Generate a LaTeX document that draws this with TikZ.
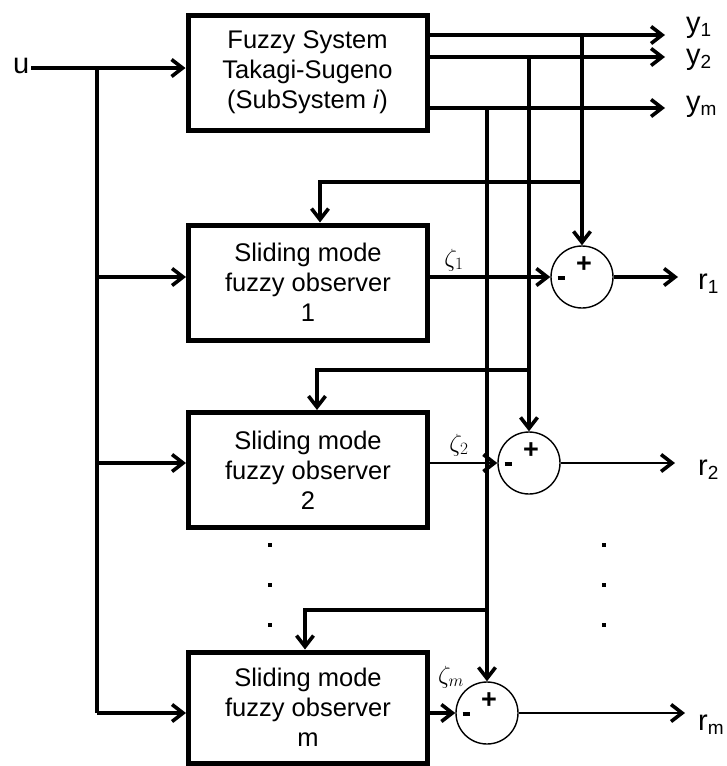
\documentclass[tikz,border=0pt]{standalone}
\usepackage{fontspec}
\setmainfont{Liberation Sans}
\usetikzlibrary{arrows.meta}
\newcommand\mysub[1]{\raisebox{-4pt}{\fontsize{19}{19}\selectfont #1}}
\begin{document}
\begin{tikzpicture}[x=1pt,y=-1pt,
  wire/.style={line width=4.2pt},
  arr/.style={wire,-{Straight Barb[length=11pt,width=17pt,line width=3.6pt]}},
  thinarr/.style={line width=2.6pt,-{Straight Barb[length=11pt,width=17pt,line width=3.6pt]}},
  blk/.style={draw,line width=5pt,minimum width=239pt,minimum height=115pt,align=center,
              font=\fontsize{25.5}{30}\selectfont,inner sep=0pt},
  sumc/.style={draw,circle,line width=1.4pt,minimum size=62pt,inner sep=0pt},
  lab/.style={font=\fontsize{29}{30}\selectfont,inner sep=0pt,anchor=base west},
  zlab/.style={font=\fontsize{24}{26}\selectfont,inner sep=0pt},
  sgn/.style={font=\fontsize{27}{28}\selectfont\bfseries,inner sep=0pt},
  dotmark/.style={fill,rectangle,inner sep=0pt,minimum size=3.5pt}]
\useasboundingbox (0,0) rectangle (726,766);

% blocks
\node[blk] (top) at (307.5,72.5) {Fuzzy System\\Takagi-Sugeno\\(SubSystem \textit{i})};
\node[blk] (o1) at (308,282.5) {Sliding mode\\fuzzy observer\\1};
\node[blk] (o2) at (308,470) {Sliding mode\\fuzzy observer\\2};
\node[blk,minimum height=111pt] (om) at (308,707.5) {Sliding mode\\fuzzy observer\\m};

% summing junctions
\node[sumc] (s1) at (582,277) {};
\node[sumc] (s2) at (529,463) {};
\node[sumc] (sm) at (487,713) {};
\foreach \s in {s1,s2,sm}{
  \node[sgn,xshift=2pt,yshift=12pt] at (\s) {+};
  \node[inner sep=0pt,xshift=-21pt,yshift=-1pt] at (\s) {\rule{7pt}{3.2pt}};
}

% input u
\node[lab] (u) at (13,73) {u};
\coordinate (uin) at (31,68);
\coordinate (bt) at (97,68);
\coordinate (bb) at (97,713);
\coordinate (row1) at (0,277);
\coordinate (row2) at (0,463);
\coordinate (rowm) at (0,713);
\draw[arr] (uin) -- (uin -| top.west);
\draw[wire] (bt) -- (bb);
\draw[arr] (bt |- row1) -- (o1.west |- row1);
\draw[arr] (bt |- row2) -- (o2.west |- row2);
\draw[arr] (bb) -- (om.west |- rowm);

% outputs of the fuzzy system
\coordinate (y1e) at (665,35);
\coordinate (y2e) at (665,57);
\coordinate (yme) at (665,108);
\draw[arr] (top.east |- y1e) -- (y1e);
\draw[arr] (top.east |- y2e) -- (y2e);
\draw[arr] (top.east |- yme) -- (yme);
\node[lab] (y1l) at (686,32) {y\mysub{1}};
\node[lab] (y2l) at (686,64) {y\mysub{2}};
\node[lab] (yml) at (686,111) {y\mysub{m}};

% feed lines
\coordinate (f1) at (320,182);
\coordinate (f2) at (317,370);
\coordinate (fm) at (305,610);
\draw[arr] (s1.north |- y1e) -- (s1.north);
\draw[arr] (s2.north |- y2e) -- (s2.north);
\draw[arr] (sm.north |- yme) -- (sm.north);
\draw[arr] (s1.north |- f1) -- (f1) -- (f1 |- o1.north);
\draw[arr] (s2.north |- f2) -- (f2) -- (f2 |- o2.north);
\draw[arr] (sm.north |- fm) -- (fm) -- (fm |- om.north);

% observer outputs
\draw[arr] (o1.east |- row1) -- (s1.west);
\draw[thinarr] (o2.east |- row2) -- (s2.west);
\draw[arr] (om.east |- rowm) -- (sm.west);
\node[zlab] (z1) at (454,260) {$\zeta_1$};
\node[zlab] (z2) at (459,445) {$\zeta_2$};
\node[zlab] (zm) at (451,677) {$\zeta_m$};

% residuals
\coordinate (r1e) at (678,277);
\coordinate (r2e) at (675,463);
\coordinate (rme) at (685,713);
\draw[arr] (s1.east) -- (r1e);
\draw[thinarr] (s2.east) -- (r2e);
\draw[thinarr] (sm.east) -- (rme);
\node[lab] (r1l) at (698,289) {r\mysub{1}};
\node[lab] (r2l) at (698,475) {r\mysub{2}};
\node[lab] (rml) at (698,730) {r\mysub{m}};

% ellipsis dots
\foreach \yy in {545,585,625}{
  \node[dotmark] at (270,\yy) {};
  \node[dotmark] at (604,\yy) {};
}
\end{tikzpicture}
\end{document}
